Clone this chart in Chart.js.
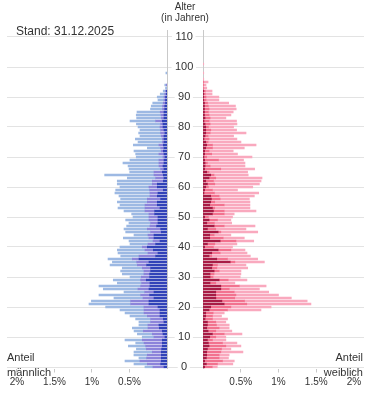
<!DOCTYPE html>
<html>
<head>
<meta charset="utf-8">
<script src="https://cdn.jsdelivr.net/npm/chart.js@4.4.1/dist/chart.umd.min.js"></script>
<style>
  body { margin: 0; background: #fff; font-family: Arial, "Liberation Sans", sans-serif; color: #333; }
  #wrap { position: relative; width: 375px; height: 416px; overflow: hidden; }
  #left { position: absolute; left: 0; top: 0; width: 203px; height: 416px; }
  #right { position: absolute; left: 203px; top: 0; width: 172px; height: 416px; }
  .lbl { position: absolute; white-space: nowrap; font-size: 11px; line-height: 13px; }
</style>
</head>
<body>
<div id="wrap">
  <div id="left"><canvas id="chartMale"></canvas></div>
  <div id="right"><canvas id="chartFemale"></canvas></div>
  <div class="lbl" style="left:16px; top:24px; font-size:12px; line-height:14px;">Stand: 31.12.2025</div>
  <div class="lbl" style="left:145px; width:80px; top:1px; font-size:10px; line-height:11px; text-align:center;">Alter<br>(in Jahren)</div>
  <div class="lbl" style="left:7px; top:351px;">Anteil</div>
  <div class="lbl" style="left:7px; top:366px;">männlich</div>
  <div class="lbl" style="right:12px; top:351px; text-align:right;">Anteil</div>
  <div class="lbl" style="right:12px; top:366px; text-align:right;">weiblich</div>
</div>

<script>
// share of population in % per age year (0, 1, 2, ...), three groups per sex
const maleDark = [
  .04, .084, .076, .076, .076, .076, .071, .062, .062, .062,
  .027, .053, .062, .102, .107, .04, .049, .093, .093, .093,
  .12, .24, .24, .173, .231, .173, .24, .227, .227, .276,
  .231, .231, .218, .218, .271, .24, .373, .151, .12, .182,
  .262, .151, .093, .173, .173, .076, .084, .138, .12, .12,
  .12, .164, .164, .093, .129, .129, .084, .129, .12, .049,
  .129, .129, .049, .04, .049, .062, .04, .053, .04, .04,
  .027, .04, .049, .04, .049, .04, .04, .04, .027, .04,
  .053, .053, .062, .04, .04, .04, .03, .03, .02, .02,
  .02, .01, .01, 0, 0, 0, 0, 0, 0, 0
];
const maleMid = [
  .147, .178, .284, .196, .187, .12, .204, .222, .244, .267,
  .147, .142, .253, .151, .147, .178, .169, .169, .213, .213,
  .187, .244, .244, .147, .12, .124, .147, .124, .111, .076,
  .111, .076, .089, .111, .124, .164, .089, .222, .133, .111,
  .067, .102, .093, .067, .08, .142, .178, .089, .098, .12,
  .12, .076, .129, .2, .164, .133, .178, .098, .107, .182,
  .111, .067, .147, .111, .124, .111, .044, .053, .067, .067,
  .027, .067, .027, .044, .058, .022, .022, .036, .058, .044,
  .04, .031, .089, .036, .04, .05, .03, .03, .03, .02,
  .02, .02, .01, 0, .01, 0, 0, 0, 0, 0
];
const maleLight = [
  .107, .178, .2, .102, .178, .244, .133, .231, .111, .231,
  .156, .2, .124, .209, .12, .156, .2, .231, .253, .32,
  .511, .556, .524, .387, .556, .276, .462, .556, .324, .364,
  .151, .289, .311, .267, .364, .324, .324, .244, .4, .369,
  .298, .24, .32, .342, .187, .333, .311, .311, .289, .311,
  .213, .231, .28, .36, .333, .4, .356, .413, .467, .453,
  .387, .467, .467, .378, .658, .324, .422, .413, .48, .387,
  .356, .311, .364, .178, .342, .324, .36, .284, .293, .276,
  .293, .324, .342, .329, .33, .31, .16, .15, .14, .08,
  .09, .06, .03, .02, .02, 0, 0, 0, .015, 0
];
const femaleDark = [
  .022, .044, .022, .044, .049, .049, .058, .08, .071, .058,
  .089, .124, .067, .049, .058, .058, .027, .036, .036, .08,
  .102, .28, .25, .17, .169, .169, .236, .236, .093, .213,
  .093, .093, .147, .116, .124, .36, .182, .08, .116, .2,
  .022, .058, .227, .089, .089, .2, .058, .147, .05, .08,
  .022, .124, .138, .124, .089, .102, .111, .102, .013, .022,
  .036, .058, .036, .08, .102, .049, .022, .027, .027, .022,
  .013, .022, .022, .036, .049, .036, .013, .027, .036, .036,
  .036, .027, .013, .027, .02, .02, .02, .02, .02, .01,
  .01, .01, .01, 0, 0, 0, 0, 0, 0, 0
];
const femaleMid = [
  .10, .147, .236, .169, .164, .187, .187, .222, .187, .067,
  .08, .156, .102, .164, .12, .111, .098, .089, .098, .244,
  .267, .30, .30, .25, .267, .244, .111, .244, .076, .12,
  .04, .053, .067, .067, .067, .062, .142, .036, .111, .169,
  .116, .098, .209, .178, .058, .036, .111, .133, .10, .111,
  .049, .156, .142, .031, .191, .053, .116, .111, .138, .102,
  .036, .098, .102, .089, .044, .031, .213, .067, .031, .182,
  .036, .093, .058, .089, .076, .031, .067, .04, .058, .067,
  .036, .067, .067, .067, .06, .05, .06, .05, .04, .03,
  .03, .02, .02, .01, .01, .01, 0, 0, 0, 0
];
const femaleLight = [
  .067, .204, .156, .124, .133, .293, .124, .2, .191, .178,
  .133, .236, .213, .133, .169, .133, .2, .12, .147, .444,
  .533, .85, .83, .75, .564, .457, .4, .356, .253, .249,
  .36, .356, .289, .409, .378, .391, .4, .511, .356, .187,
  .253, .293, .236, .28, .222, .489, .4, .409, .23, .178,
  .32, .133, .422, .467, .342, .467, .387, .467, .587, .333,
  .587, .591, .631, .613, .453, .511, .449, .462, .498, .333,
  .6, .342, .32, .422, .578, .436, .369, .338, .476, .342,
  .333, .356, .364, .209, .29, .33, .36, .36, .28, .17,
  .17, .09, .09, .04, .03, .057, .01, 0, .01, 0,
  0, .01
];

const ageLabels = ['0', '10', '20', '30', '40', '50', '60', '70', '80', '90', '100', '110'];
const xTicks = [0.5, 1, 1.5, 2];

const MAX_AGE = 110;
const X_MAX = 2.133;
const GRID = '#e3e3e3';
const AXIS = '#c9c9c9';
const FONT = 'Arial, "Liberation Sans", sans-serif';

const colors = {
  maleDark: '#3142b8',
  maleMid: '#8c84da',
  maleLight: '#9db9e3',
  femaleDark: '#a81c45',
  femaleMid: '#f2728f',
  femaleLight: '#f9a9be'
};

Chart.defaults.font.family = FONT;
Chart.defaults.color = '#333';

const ages = [];
for (let a = 0; a <= MAX_AGE; a++) ages.push(String(a));

// empty ages get null so no sliver of a bar is drawn
function pad(arr) {
  const out = arr.map((v) => (v ? v : null));
  while (out.length < ages.length) out.push(null);
  return out;
}

function makeDataset(values, color) {
  return {
    data: pad(values),
    backgroundColor: color,
    borderWidth: 0,
    barThickness: 2
  };
}

// grid lines across the gap between the halves + axis line a bit above the top
const gapLines = {
  id: 'gapLines',
  beforeDraw(chart) {
    const { ctx, chartArea, width } = chart;
    const y = chart.scales.y;
    ctx.save();
    ctx.strokeStyle = GRID;
    ctx.lineWidth = 1;
    ctx.font = '11px ' + FONT;
    const cx = chartArea.right + 8 + ctx.measureText('110').width / 2;
    y.ticks.forEach((t, i) => {
      if (t.value % 10 !== 0) return;
      const py = Math.round(y.getPixelForTick(i) - 0.5) + 0.5;
      const w = ctx.measureText(ages[t.value]).width;
      ctx.beginPath();
      ctx.moveTo(chartArea.right, py);
      ctx.lineTo(cx - w / 2 - 3, py);
      ctx.moveTo(cx + w / 2 + 3, py);
      ctx.lineTo(width, py);
      ctx.stroke();
    });
    ctx.restore();
  }
};

const axisTop = {
  id: 'axisTop',
  afterDraw(chart, args, opts) {
    const { ctx, chartArea } = chart;
    const x = Math.round(opts.side === 'right' ? chartArea.right : chartArea.left) + 0.5;
    ctx.save();
    ctx.strokeStyle = AXIS;
    ctx.lineWidth = 1;
    ctx.beginPath();
    ctx.moveTo(x, 30);
    ctx.lineTo(x, chartArea.top);
    ctx.stroke();
    ctx.restore();
  }
};

function yScale(position, showLabels) {
  return {
    type: 'category',
    position: position,
    reverse: true,
    offset: true,
    stacked: true,
    grid: {
      offset: false,
      drawTicks: false,
      color: (c) => (c.tick && c.tick.value % 10 === 0 ? GRID : 'rgba(0,0,0,0)')
    },
    border: { color: AXIS },
    ticks: {
      display: showLabels,
      autoSkip: false,
      padding: 8,
      crossAlign: 'center',
      font: { size: 11 },
      color: '#333',
      callback: (v) => (ageLabels.includes(ages[v]) ? ages[v] : '')
    },
    afterFit: (s) => {
      s.width = showLabels ? 36 : 0;
      s.paddingTop = 0;
      s.paddingBottom = 0;
    }
  };
}

function xScale(reverse) {
  return {
    type: 'linear',
    reverse: reverse,
    min: 0,
    max: X_MAX,
    stacked: true,
    grid: { drawOnChartArea: false, drawTicks: true, tickLength: 4, color: AXIS },
    border: { display: false },
    ticks: {
      padding: 4,
      font: { size: 10 },
      color: '#333',
      callback: (v) => v + '%'
    },
    afterBuildTicks: (s) => {
      s.ticks = xTicks.map((v) => ({ value: v }));
    },
    afterFit: (s) => {
      s.height = 416 - 368.5;
      s.paddingLeft = 0;
      s.paddingRight = 0;
    }
  };
}

function makeChart(id, datasets, reverse, padding, yPos, showLabels, plugins, side) {
  return new Chart(document.getElementById(id), {
    type: 'bar',
    data: { labels: ages, datasets: datasets },
    options: {
      indexAxis: 'y',
      responsive: true,
      maintainAspectRatio: false,
      animation: false,
      layout: { padding: padding },
      plugins: {
        legend: { display: false },
        tooltip: { enabled: false },
        axisTop: { side: side }
      },
      scales: {
        x: xScale(reverse),
        y: yScale(yPos, showLabels)
      }
    },
    plugins: plugins
  });
}

makeChart('chartMale', [
  makeDataset(maleDark, colors.maleDark),
  makeDataset(maleMid, colors.maleMid),
  makeDataset(maleLight, colors.maleLight)
], true, { left: 7, right: 0, top: 35.5, bottom: 0 }, 'right', true, [gapLines, axisTop], 'right');

makeChart('chartFemale', [
  makeDataset(femaleDark, colors.femaleDark),
  makeDataset(femaleMid, colors.femaleMid),
  makeDataset(femaleLight, colors.femaleLight)
], false, { left: 0, right: 11, top: 35.5, bottom: 0 }, 'left', false, [axisTop], 'left');
</script>
</body>
</html>
